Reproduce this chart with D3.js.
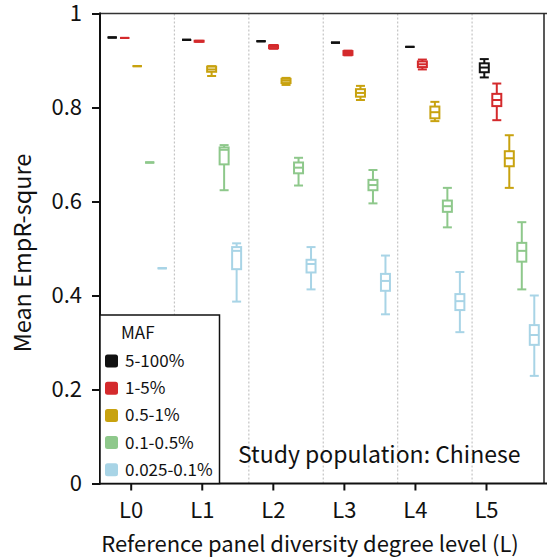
<!DOCTYPE html>
<html>
<head>
<meta charset="utf-8">
<script src="https://cdn.jsdelivr.net/npm/d3@7"></script>
<style>
  html, body { margin: 0; padding: 0; background: #fff; }
  svg { display: block; }
  text { font-family: "Noto Sans CJK SC", "Noto Sans", sans-serif; fill: #111; }
</style>
</head>
<body>
<svg id="chart" width="547" height="559"></svg>
<script>
// Reference panel diversity levels and MAF bins
const levels = ["L0", "L1", "L2", "L3", "L4", "L5"];
const mafClasses = ["5-100%", "1-5%", "0.5-1%", "0.1-0.5%", "0.025-0.1%"];
const classColors = ["#111111", "#d42a2c", "#c8a20f", "#8ec88b", "#a8d4e6"];
const yTicks = [0, 0.2, 0.4, 0.6, 0.8, 1];

// Box statistics per MAF bin, one entry per level: [min, q1, median, q3, max]
const maf5to100 = [
  [0.949, 0.949, 0.949, 0.949, 0.949],
  [0.944, 0.944, 0.944, 0.944, 0.944],
  [0.941, 0.941, 0.941, 0.941, 0.941],
  [0.938, 0.938, 0.938, 0.938, 0.938],
  [0.929, 0.929, 0.929, 0.929, 0.929],
  [0.864, 0.875, 0.885, 0.894, 0.903]
];
const maf1to5 = [
  [0.948, 0.948, 0.948, 0.948, 0.948],
  [0.940, 0.940, 0.941, 0.942, 0.942],
  [0.925, 0.926, 0.929, 0.932, 0.933],
  [0.911, 0.912, 0.916, 0.920, 0.921],
  [0.881, 0.886, 0.892, 0.898, 0.902],
  [0.773, 0.803, 0.816, 0.829, 0.851]
];
const maf05to1 = [
  [0.888, 0.888, 0.888, 0.888, 0.888],
  [0.867, 0.876, 0.881, 0.887, 0.888],
  [0.848, 0.852, 0.857, 0.861, 0.863],
  [0.816, 0.823, 0.831, 0.839, 0.846],
  [0.771, 0.777, 0.790, 0.802, 0.812],
  [0.629, 0.675, 0.692, 0.707, 0.741]
];
const maf01to05 = [
  [0.683, 0.683, 0.683, 0.683, 0.683],
  [0.624, 0.679, 0.710, 0.715, 0.720],
  [0.634, 0.660, 0.672, 0.683, 0.693],
  [0.596, 0.624, 0.635, 0.646, 0.667],
  [0.545, 0.578, 0.590, 0.602, 0.629],
  [0.413, 0.472, 0.495, 0.512, 0.556]
];
const maf0025to01 = [
  [0.458, 0.458, 0.458, 0.458, 0.458],
  [0.387, 0.456, 0.495, 0.503, 0.511],
  [0.413, 0.449, 0.467, 0.476, 0.503],
  [0.360, 0.410, 0.431, 0.446, 0.485],
  [0.322, 0.369, 0.388, 0.403, 0.450],
  [0.229, 0.295, 0.316, 0.337, 0.400]
];
const statsByClass = [maf5to100, maf1to5, maf05to1, maf01to05, maf0025to01];

const svg = d3.select("#chart");
const plotLeft = 100, plotRight = 544, plotTop = 13.5, plotBottom = 483.5;

const y = d3.scaleLinear().domain([0, 1]).range([plotBottom, plotTop]);
// group bands for the boxes
const xGroup = d3.scaleBand().domain(levels).range([plotLeft, 546.5]);
const xSub = d3.scaleBand().domain(mafClasses).range([-31.25, 31.25]);
// tick positions of the level labels
const xTick = d3.scalePoint().domain(levels).range([130.7, 486]);

// dotted separators between level groups
svg.append("g").selectAll("line")
  .data(levels.slice(1))
  .join("line")
  .attr("x1", d => xGroup(d)).attr("x2", d => xGroup(d))
  .attr("y1", plotTop).attr("y2", plotBottom)
  .attr("stroke", "#c4c4c4").attr("stroke-width", 1.2)
  .attr("stroke-dasharray", "2,2");

// boxes
const boxW = 9;
const records = [];
statsByClass.forEach((series, ci) => {
  series.forEach((s, li) => {
    records.push({ level: levels[li], cls: mafClasses[ci], color: classColors[ci], s });
  });
});
const boxes = svg.append("g").selectAll("g")
  .data(records)
  .join("g")
  .attr("transform", d => `translate(${xGroup(d.level) + xGroup.bandwidth() / 2 + xSub(d.cls) + xSub.bandwidth() / 2},0)`)
  .attr("stroke", d => d.color)
  .attr("stroke-width", 2)
  .attr("fill", "none");

boxes.append("line")
  .attr("x1", 0).attr("x2", 0)
  .attr("y1", d => y(d.s[0])).attr("y2", d => y(d.s[4]));
boxes.append("line")
  .attr("x1", -boxW / 2).attr("x2", boxW / 2)
  .attr("y1", d => y(d.s[0])).attr("y2", d => y(d.s[0]));
boxes.append("line")
  .attr("x1", -boxW / 2).attr("x2", boxW / 2)
  .attr("y1", d => y(d.s[4])).attr("y2", d => y(d.s[4]));
boxes.append("rect")
  .attr("x", -boxW / 2).attr("width", boxW)
  .attr("y", d => y(d.s[3]))
  .attr("height", d => y(d.s[1]) - y(d.s[3]))
  .attr("fill", "#fff");
boxes.append("line")
  .attr("x1", -boxW / 2).attr("x2", boxW / 2)
  .attr("y1", d => y(d.s[2])).attr("y2", d => y(d.s[2]));

// frame
svg.append("line").attr("x1", plotLeft).attr("x2", 547).attr("y1", plotTop).attr("y2", plotTop)
  .attr("stroke", "#333").attr("stroke-width", 1.5);
svg.append("line").attr("x1", plotRight).attr("x2", plotRight).attr("y1", plotTop).attr("y2", plotBottom)
  .attr("stroke", "#222").attr("stroke-width", 1.5);

// axes
const yAxis = svg.append("g")
  .attr("transform", `translate(${plotLeft},0)`)
  .call(d3.axisLeft(y).tickValues(yTicks).tickSize(8).tickPadding(10)
    .tickFormat(d => (d === 0 || d === 1) ? String(d) : d.toFixed(1)));
const xAxis = svg.append("g")
  .attr("transform", `translate(0,${plotBottom})`)
  .call(d3.axisBottom(xTick).tickSize(7).tickPadding(12));
xAxis.append("line").attr("x1", plotLeft).attr("x2", 547).attr("y1", 0).attr("y2", 0)
  .attr("stroke", "#111").attr("stroke-width", 2);
[yAxis, xAxis].forEach(g => {
  g.select(".domain").remove();
  g.selectAll(".tick line").attr("stroke", "#111").attr("stroke-width", 2);
  g.selectAll(".tick text").attr("fill", "#111").style("font-size", "22px")
    .style("font-family", "'Noto Sans CJK SC', 'Noto Sans', sans-serif");
});
yAxis.append("line").attr("x1", 0).attr("x2", 0).attr("y1", plotTop - 1).attr("y2", plotBottom + 1)
  .attr("stroke", "#111").attr("stroke-width", 2);

// axis titles
svg.append("text")
  .attr("transform", `translate(31,253) rotate(-90)`)
  .attr("text-anchor", "middle")
  .style("font-size", "23.5px")
  .text("Mean EmpR-squre");
svg.append("text")
  .attr("x", 310).attr("y", 552)
  .attr("text-anchor", "middle")
  .style("font-size", "22px")
  .text("Reference panel diversity degree level (L)");

// annotation
svg.append("text")
  .attr("x", 238).attr("y", 463)
  .style("font-size", "23px")
  .text("Study population: Chinese");

// legend
const legend = svg.append("g");
legend.append("rect")
  .attr("x", plotLeft).attr("y", 315).attr("width", 119.5).attr("height", plotBottom - 315)
  .attr("fill", "#fff").attr("stroke", "#111").attr("stroke-width", 1.5);
legend.append("text")
  .attr("x", 121).attr("y", 339)
  .style("font-size", "17px")
  .text("MAF");
const items = legend.selectAll("g.item")
  .data(mafClasses)
  .join("g")
  .attr("class", "item")
  .attr("transform", (d, i) => `translate(105,${361 + i * 27.2})`);
items.append("rect")
  .attr("x", 0).attr("y", -6.5).attr("width", 13).attr("height", 13)
  .attr("rx", 2.5)
  .attr("fill", (d, i) => classColors[i]);
items.append("text")
  .attr("x", 20).attr("y", 6)
  .style("font-size", "17px")
  .text(d => d);
</script>
</body>
</html>
